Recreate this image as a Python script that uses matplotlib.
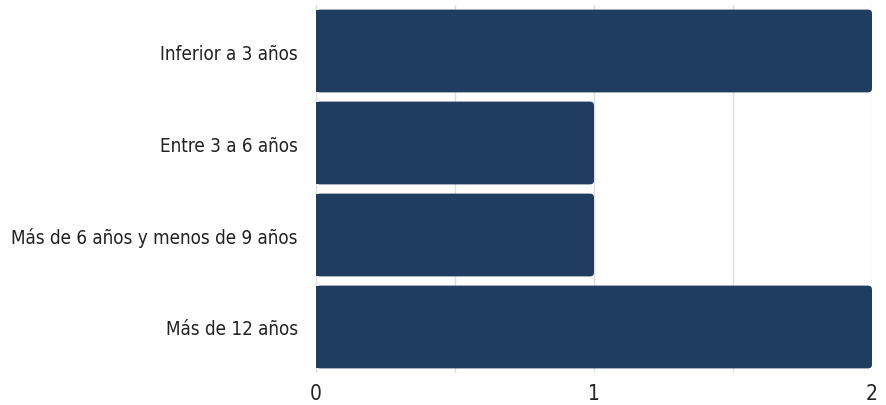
import matplotlib
matplotlib.use("Agg")
import matplotlib.pyplot as plt
from matplotlib.patches import FancyBboxPatch

categories = ["Inferior a 3 años", "Entre 3 a 6 años", "Más de 6 años y menos de 9 años", "Más de 12 años"]
values = [2, 1, 1, 2]
xticks = [0, 1, 2]

plt.rcParams['font.family'] = ['DejaVu Sans']
plt.rcParams['font.stretch'] = 'condensed'

color = "#1f3d5e"
fig = plt.figure(figsize=(8.86, 4.06), dpi=100)
ax = fig.add_axes([316/886, 1-374/406, 556/886, 368/406])

ypos = list(range(len(categories)))
h = 0.9
bars = ax.barh(ypos, values, height=h, color=color, zorder=3)
ax.set_xlim(0, 2)
ax.set_ylim(len(categories)-0.5, -0.5)

# rounded right corners: rounded patch over the full bar, square bar only at left
rx = 4 * 2/556
ry = 4 * 4/368
for b in bars:
    x0, y0, w, hh = b.get_x(), b.get_y(), b.get_width(), b.get_height()
    p = FancyBboxPatch((x0, y0), w, hh,
                       boxstyle=f"round,pad=0,rounding_size={rx}",
                       mutation_aspect=ry/rx, fc=color, ec="none", zorder=3)
    ax.add_patch(p)
    b.set_width(3*rx)

ax.set_yticks(ypos)
ax.set_yticklabels(categories, fontsize=13.5, color="#222222")
ax.set_xticks(xticks)
ax.set_xticks([0.5, 1.5], minor=True)
ax.set_xticklabels([str(t) for t in xticks], fontsize=15, color="#222222")
ax.tick_params(axis='both', which='both', length=0)
ax.tick_params(axis='y', pad=13)
ax.tick_params(axis='x', pad=7)
ax.grid(axis='x', which='both', color="#dddddd", linewidth=1, zorder=0)
for s in ax.spines.values():
    s.set_visible(False)

fig.savefig("out.png", dpi=100)
